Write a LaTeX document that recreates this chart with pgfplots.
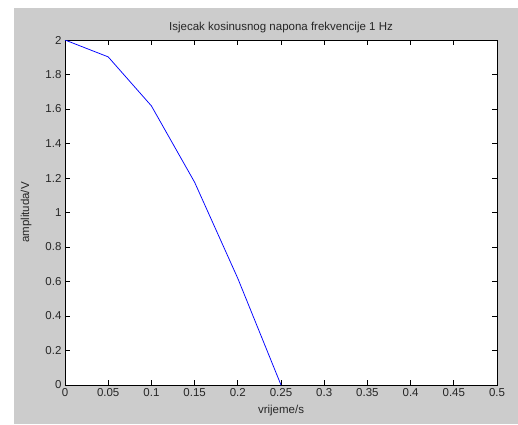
\documentclass[border=0pt]{standalone}
\usepackage{fontspec}
\setmainfont{Liberation Sans}
\usepackage{pgfplots}
\pgfplotsset{compat=1.18}
\definecolor{figgray}{RGB}{204,204,204}
\begin{document}
\begin{tikzpicture}
\useasboundingbox (0,0) rectangle (518pt,424pt);
\fill[white] (0,0) rectangle (518pt,424pt);
\fill[figgray] (14pt,0) rectangle (518pt,416pt);
\begin{axis}[
    at={(65pt,39pt)}, anchor=south west,
    scale only axis,
    width=432pt, height=345pt,
    xmin=0, xmax=0.5, ymin=0, ymax=2,
    xtick={0,0.05,0.1,0.15,0.2,0.25,0.3,0.35,0.4,0.45,0.5},
    ytick={0,0.2,0.4,0.6,0.8,1,1.2,1.4,1.6,1.8,2},
    tick align=inside,
    major tick length=5pt,
    axis background/.style={fill=white},
    axis line style={black, line width=0.8pt},
    tick style={black, line width=0.8pt},
    ticklabel style={font=\fontsize{11.5}{13}\selectfont, text=black!85},
    /pgf/number format/.cd, fixed, precision=2, assume math mode=true,
    /pgfplots/.cd,
    title={Isjecak kosinusnog napona frekvencije 1 Hz},
    title style={font=\fontsize{11.5}{13}\selectfont, text=black!85, yshift=-2pt},
    xlabel={vrijeme/s},
    ylabel={amplituda/V},
    label style={font=\fontsize{11.5}{13}\selectfont, text=black!85},
    xlabel style={yshift=-2pt},
    ylabel style={yshift=7pt},
]
\addplot[blue, line width=0.75pt] coordinates {
    (0,2) (0.05,1.9021) (0.1,1.6180) (0.15,1.1756) (0.2,0.6180) (0.25,0)
};
\end{axis}
\end{tikzpicture}
\end{document}
